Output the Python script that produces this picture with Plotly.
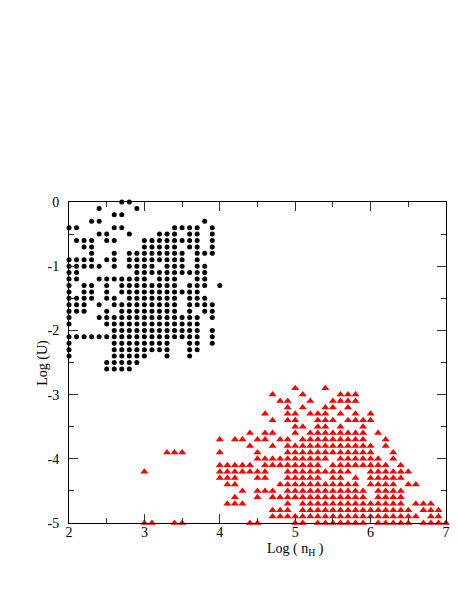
import plotly.graph_objects as go

# Log(U) rows and the Log(nH) grid points occupied in each row
low_density_logu = [0.0, -0.1, -0.2, -0.3, -0.4, -0.5, -0.6, -0.7, -0.8, -0.9,
                    -1.0, -1.1, -1.2, -1.3, -1.4, -1.5, -1.6, -1.7, -1.8, -1.9,
                    -2.0, -2.1, -2.2, -2.3, -2.4, -2.5, -2.6]
low_density_lognh = [
    [2.7, 2.8],
    [2.4, 2.9],
    [2.6, 2.7],
    [2.3, 2.4, 3.8],
    [2.0, 2.1, 2.6, 2.7, 3.4, 3.5, 3.6, 3.7, 3.9],
    [2.4, 2.5, 2.8, 3.2, 3.3, 3.4, 3.6, 3.7, 3.9],
    [2.1, 2.2, 2.3, 2.5, 2.6, 3.0, 3.1, 3.2, 3.3, 3.4, 3.5, 3.6, 3.7, 3.9],
    [2.2, 2.3, 3.0, 3.1, 3.2, 3.3, 3.4, 3.6, 3.7, 3.9],
    [2.3, 2.6, 2.8, 2.9, 3.0, 3.1, 3.2, 3.3, 3.4, 3.5, 3.7, 3.8, 3.9],
    [2.0, 2.1, 2.2, 2.3, 2.5, 2.6, 2.8, 2.9, 3.0, 3.1, 3.2, 3.3, 3.4, 3.5, 3.7],
    [2.0, 2.1, 2.2, 2.3, 2.4, 2.6, 2.8, 2.9, 3.0, 3.1, 3.3, 3.4, 3.5, 3.7, 3.8],
    [2.0, 2.1, 2.9, 3.0, 3.1, 3.2, 3.3, 3.4, 3.5, 3.6, 3.7, 3.8],
    [2.0, 2.1, 2.4, 2.5, 2.6, 2.7, 2.8, 2.9, 3.0, 3.2, 3.3, 3.4, 3.7, 3.8],
    [2.0, 2.2, 2.3, 2.5, 2.7, 2.8, 2.9, 3.0, 3.1, 3.2, 3.3, 3.4, 3.6, 3.7, 3.8, 4.0],
    [2.0, 2.2, 2.3, 2.5, 2.7, 2.8, 2.9, 3.0, 3.1, 3.2, 3.3, 3.4, 3.5, 3.6, 3.7],
    [2.0, 2.1, 2.2, 2.3, 2.5, 2.6, 2.8, 2.9, 3.0, 3.1, 3.2, 3.3, 3.4, 3.6, 3.7, 3.8],
    [2.0, 2.1, 2.2, 2.4, 2.6, 2.7, 2.8, 2.9, 3.0, 3.1, 3.2, 3.3, 3.4, 3.6, 3.7, 3.8, 3.9],
    [2.0, 2.1, 2.2, 2.5, 2.7, 2.8, 2.9, 3.0, 3.1, 3.2, 3.3, 3.4, 3.6, 3.8, 3.9],
    [2.0, 2.4, 2.5, 2.6, 2.7, 2.8, 2.9, 3.0, 3.1, 3.2, 3.3, 3.4, 3.5, 3.6, 3.7, 3.9],
    [2.0, 2.5, 2.6, 2.7, 2.8, 2.9, 3.0, 3.1, 3.2, 3.3, 3.4, 3.5, 3.6, 3.7],
    [2.6, 2.7, 2.8, 2.9, 3.0, 3.1, 3.2, 3.3, 3.4, 3.5, 3.6, 3.7, 3.9],
    [2.0, 2.1, 2.2, 2.3, 2.4, 2.5, 2.6, 2.7, 2.8, 2.9, 3.0, 3.1, 3.2, 3.3, 3.4, 3.5, 3.6, 3.7, 3.9],
    [2.0, 2.6, 2.7, 2.8, 2.9, 3.0, 3.1, 3.2, 3.3, 3.6, 3.7, 3.9],
    [2.0, 2.6, 2.7, 2.8, 2.9, 3.0, 3.1, 3.2, 3.3, 3.6, 3.7],
    [2.0, 2.6, 2.7, 2.8, 2.9, 3.0, 3.3, 3.6],
    [2.5, 2.6, 2.7, 2.8, 2.9],
    [2.5, 2.6, 2.7, 2.8],
]

high_density_logu = [-2.9, -3.0, -3.1, -3.2, -3.3, -3.4, -3.5, -3.6, -3.7, -3.8,
                     -3.9, -4.0, -4.1, -4.2, -4.3, -4.4, -4.5, -4.6, -4.7, -4.8,
                     -4.9, -5.0]
high_density_lognh = [
    [5.0, 5.4],
    [4.7, 5.1, 5.6, 5.7, 5.8],
    [4.8, 4.9, 5.2, 5.5, 5.6, 5.7, 5.8],
    [4.9, 5.1, 5.4, 5.5, 5.7],
    [4.6, 4.9, 5.0, 5.2, 5.3, 5.4, 5.6, 5.8, 6.0],
    [4.7, 4.9, 5.0, 5.3, 5.4, 5.5, 5.7, 5.8, 5.9, 6.0],
    [5.0, 5.1, 5.3, 5.4, 5.6, 5.9],
    [4.4, 4.6, 4.7, 5.0, 5.2, 5.3, 5.4, 5.5, 5.6, 5.7, 5.8, 5.9, 6.1],
    [4.0, 4.2, 4.3, 4.5, 4.6, 4.8, 4.9, 5.1, 5.2, 5.3, 5.4, 5.5, 5.6, 5.7, 5.8, 5.9, 6.2],
    [4.4, 4.7, 4.9, 5.0, 5.1, 5.2, 5.3, 5.4, 5.5, 5.6, 5.7, 5.8, 5.9, 6.0, 6.2],
    [3.3, 3.4, 3.5, 4.0, 4.5, 4.9, 5.0, 5.1, 5.2, 5.3, 5.4, 5.5, 5.6, 5.7, 5.8, 5.9, 6.0, 6.3],
    [4.5, 4.6, 4.7, 4.8, 4.9, 5.0, 5.1, 5.2, 5.3, 5.4, 5.6, 5.7, 5.8, 5.9, 6.0, 6.1, 6.3],
    [4.0, 4.1, 4.2, 4.3, 4.4, 4.6, 4.7, 4.8, 4.9, 5.0, 5.1, 5.2, 5.3, 5.5, 5.6, 5.7, 5.8,
     5.9, 6.0, 6.1, 6.2, 6.4],
    [3.0, 4.0, 4.1, 4.2, 4.3, 4.4, 4.5, 4.6, 4.9, 5.0, 5.1, 5.2, 5.3, 5.4, 5.5, 5.6, 5.7,
     6.0, 6.1, 6.2, 6.3, 6.4, 6.5],
    [4.0, 4.1, 4.2, 4.5, 4.6, 4.9, 5.0, 5.1, 5.2, 5.3, 5.5, 5.6, 5.8, 6.0, 6.1, 6.2, 6.3, 6.4],
    [4.1, 4.2, 4.8, 4.9, 5.0, 5.1, 5.2, 5.3, 5.4, 5.5, 5.6, 5.7, 5.8, 6.0, 6.1, 6.2, 6.3,
     6.5, 6.6],
    [4.3, 4.5, 4.6, 4.7, 4.9, 5.0, 5.1, 5.2, 5.3, 5.4, 5.5, 5.6, 5.7, 5.8, 5.9, 6.1, 6.2,
     6.3, 6.4],
    [4.2, 4.5, 4.7, 4.8, 4.9, 5.0, 5.1, 5.2, 5.3, 5.4, 5.5, 5.6, 5.7, 5.8, 5.9, 6.1, 6.2,
     6.3, 6.4],
    [4.1, 4.2, 4.3, 4.9, 5.1, 5.2, 5.3, 5.4, 5.5, 5.6, 5.7, 5.8, 5.9, 6.0, 6.1, 6.2, 6.3,
     6.4, 6.6, 6.7, 6.8],
    [4.7, 4.8, 4.9, 5.1, 5.2, 5.3, 5.4, 5.5, 5.6, 5.7, 5.8, 5.9, 6.0, 6.1, 6.2, 6.3, 6.4,
     6.5, 6.7, 6.8, 6.9],
    [4.7, 4.8, 4.9, 5.0, 5.1, 5.2, 5.3, 5.4, 5.5, 5.6, 5.7, 5.8, 5.9, 6.0, 6.1, 6.2, 6.3,
     6.4, 6.5, 6.6, 6.8, 6.9],
    [3.0, 3.1, 3.4, 3.5, 4.4, 4.5, 5.0, 5.1, 5.3, 5.4, 5.5, 5.6, 5.7, 5.8, 5.9, 6.1, 6.2,
     6.3, 6.4, 6.5, 6.7, 6.8, 6.9, 7.0],
]

x_ticks = [2, 3, 4, 5, 6, 7]
x_labels = ["2", "3", "4", "5", "6", "7"]
y_ticks = [0, -1, -2, -3, -4, -5]
y_labels = ["0", "-1", "-2", "-3", "-4", "-5"]


def flatten(rows_u, rows_nh):
    xs, ys = [], []
    for u, nh_list in zip(rows_u, rows_nh):
        for nh in nh_list:
            xs.append(nh)
            ys.append(u)
    return xs, ys


bx, by = flatten(low_density_logu, low_density_lognh)
rx, ry = flatten(high_density_logu, high_density_lognh)

fig = go.Figure()
fig.add_trace(go.Scatter(x=bx, y=by, mode="markers", cliponaxis=False,
                         marker=dict(symbol="circle", size=5, color="black", line_width=0)))
fig.add_trace(go.Scatter(x=rx, y=ry, mode="markers", cliponaxis=False,
                         marker=dict(symbol="triangle-up", size=7, color="#ff0000", line_width=0)))

serif = "Liberation Serif, Times New Roman, serif"
axis_common = dict(showgrid=False, zeroline=False, showline=True, linecolor="black", linewidth=1,
                   mirror="ticks", ticks="inside", ticklen=9, tickcolor="#333", tickwidth=1,
                   minor=dict(ticks="inside", ticklen=5, dtick=0.5, tickcolor="#333"),
                   tickfont=dict(family=serif, size=14, color="black"))

# page body has an 8px margin, so the figure is offset by 8px from the window corner
fig.update_layout(
    width=450, height=576,
    margin=dict(l=61, r=8, t=194, b=61),
    paper_bgcolor="white", plot_bgcolor="white",
    showlegend=False,
    xaxis=dict(range=[2, 7], tickvals=x_ticks, ticktext=x_labels, ticklabelstandoff=-4, **axis_common),
    yaxis=dict(range=[-5, 0], tickvals=y_ticks, ticktext=y_labels, ticklabelstandoff=6, **axis_common),
)

plot_w, plot_h = 450 - 61 - 8, 576 - 194 - 61
fig.add_annotation(x=(290 - 61) / plot_w, y=-(541 - 515) / plot_h, xref="paper", yref="paper",
                   xanchor="center", yanchor="middle",
                   text="Log ( n<sub>H</sub> )", showarrow=False,
                   font=dict(family=serif, size=14, color="black"))
fig.add_annotation(x=(34 - 61) / plot_w, y=0.5, xref="paper", yref="paper",
                   xanchor="center", yanchor="middle",
                   text="Log (U)", showarrow=False, textangle=-90,
                   font=dict(family=serif, size=14, color="black"))

fig.write_html("out.html")
